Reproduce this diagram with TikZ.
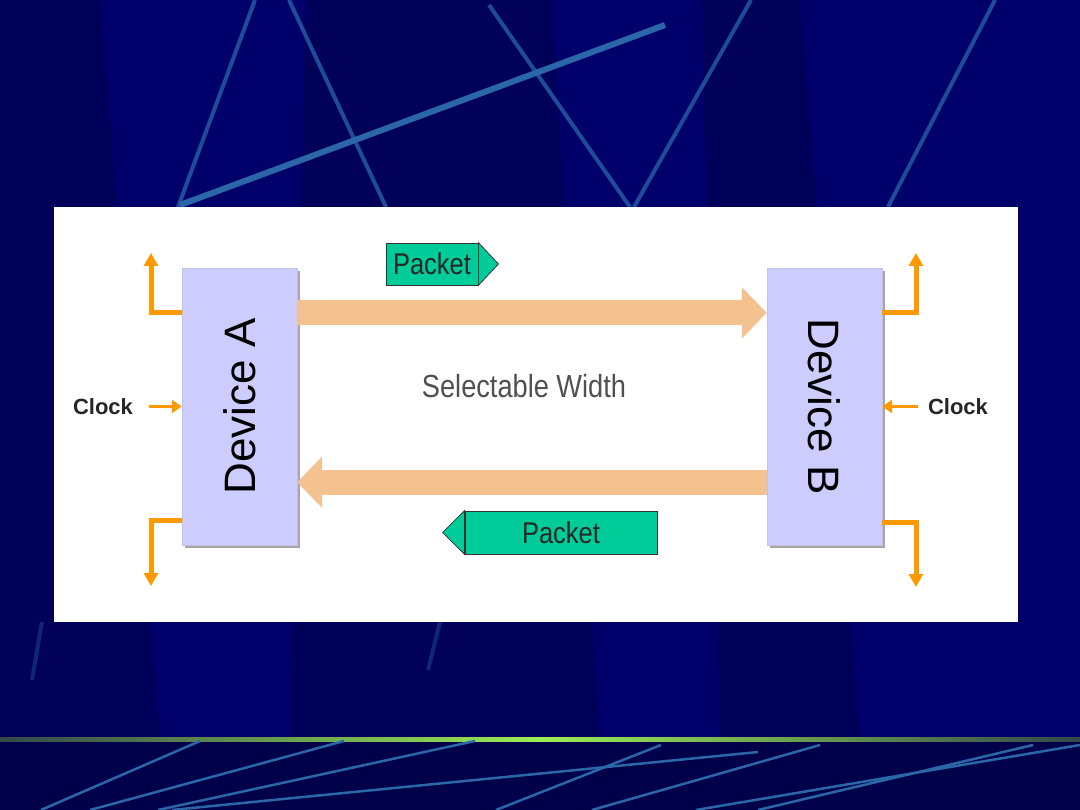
\documentclass[tikz,border=0pt]{standalone}
\usepackage{fontspec}
\setmainfont{Liberation Sans}
\newfontfamily\narrowfont{Liberation Sans}[FakeStretch=0.85]
\usetikzlibrary{arrows.meta,shadows}
\definecolor{navy}{HTML}{00006B}
\definecolor{deepnavy}{HTML}{00004A}
\definecolor{streak}{HTML}{1D4C98}
\definecolor{brightstreak}{HTML}{2A66A8}
\definecolor{lilac}{HTML}{CCCCFF}
\definecolor{peach}{HTML}{F3C28F}
\definecolor{jade}{HTML}{00CC99}
\definecolor{amber}{HTML}{FF9900}
\definecolor{slate}{HTML}{505050}
\definecolor{lime}{HTML}{99EE55}
\definecolor{dimline}{HTML}{34484A}
\tikzset{
  device/.style={rectangle,draw=lilac!85!gray,fill=lilac,minimum width=115pt,minimum height=277pt,inner sep=0pt,font=\fontsize{44}{44}\selectfont,drop shadow={shadow xshift=3pt,shadow yshift=-3pt,fill=gray!70,opacity=1}},
  packet/.style={rectangle,draw=black!80,thick,fill=jade,inner sep=0pt,font=\narrowfont\fontsize{30}{30}\selectfont,text=black!85},
  bus/.style={-{Triangle[length=25pt,width=50pt]},line width=25pt,peach},
  ctl/.style={-{Triangle[length=13pt,width=14pt]},line width=5pt,amber},
  clk/.style={-{Triangle[length=10pt,width=13pt]},line width=2.5pt,amber},
  clocklbl/.style={font=\bfseries\fontsize{22}{22}\selectfont,text=black!85,inner sep=0pt},
  streakline/.style={line width=4pt,streak},
  band/.style={deepnavy,opacity=0.55}
}

\begin{document}
\begin{tikzpicture}[x=1pt,y=-1pt]
        \useasboundingbox (0,0) rectangle (1080,810);
        \fill[navy] (0,0) rectangle (1080,810);
        \fill[band] (0,0) -- (100,0) -- (160,740) -- (0,740) -- cycle;
        \fill[band] (306,0) -- (551,0) -- (600,740) -- (290,740) -- cycle;
        \fill[band] (702,0) -- (800,0) -- (860,740) -- (720,740) -- cycle;
        \draw[streakline] (255,0) -- (178,207);
        \draw[streakline] (289,0) -- (386,207);
        \draw[streakline] (489,5) -- (630,207);
        \draw[streakline] (751,0) -- (634,207);
        \draw[streakline] (995,0) -- (888,207);
        \draw[line width=6pt,brightstreak] (180,205) -- (665,25);
        \draw[streakline,opacity=0.5] (42,622) -- (32,680);
        \draw[streakline,opacity=0.5] (440,622) -- (428,670);
        \fill[deepnavy] (0,741) rectangle (1080,810);
        \shade[left color=dimline,right color=dimline,middle color=lime] (0,737) rectangle (1080,741);
        \draw[brightstreak,line width=2.5pt] (41,810) -- (200,741);
        \draw[brightstreak,line width=2.5pt] (90,810) -- (344,741);
        \draw[brightstreak,line width=2.5pt] (158,810) -- (475,741);
        \draw[brightstreak,line width=2.5pt] (172,810) -- (758,752);
        \draw[brightstreak,line width=2.5pt] (496,810) -- (661,745);
        \draw[brightstreak,line width=2.5pt] (592,810) -- (820,745);
        \draw[brightstreak,line width=2.5pt] (696,810) -- (1080,745);
        \draw[brightstreak,line width=2.5pt] (758,810) -- (1033,745);
        \fill[white] (54,207) rectangle (1018,622);

        \node[device] (devA) at (239.5,406.5) {\rotatebox{90}{Device A}};
        \node[device] (devB) at (824.5,406.5) {\rotatebox{-90}{Device B}};

        \draw[bus] ([yshift=-45pt]devA.north east) -- ([yshift=-45pt]devB.north west);
        \draw[bus] ([yshift=63pt]devB.south west) -- ([yshift=63pt]devA.south east);

        \node[packet,minimum width=92pt,minimum height=42pt] (pk1) at (432,264) {Packet};
        \filldraw[jade,draw=black!80,thick] (pk1.north east) -- ([xshift=20pt]pk1.east) -- (pk1.south east) -- cycle;
        \node[packet,minimum width=192pt,minimum height=43pt] (pk2) at (561,532.5) {Packet};
        \filldraw[jade,draw=black!80,thick] (pk2.north west) -- ([xshift=-22pt]pk2.west) -- (pk2.south west) -- cycle;

        \node[font=\narrowfont\fontsize{32}{32}\selectfont,text=slate] (sel) at (524,386) {Selectable Width};

        \coordinate (upA) at (151,253);
        \coordinate (downA) at (151,586);
        \coordinate (upB) at (916,253);
        \coordinate (downB) at (916,587);
        \draw[ctl] ([yshift=-45pt]devA.north west) -| (upA);
        \draw[ctl] ([yshift=25pt]devA.south west) -| (downA);
        \draw[ctl] ([yshift=-45pt]devB.north east) -| (upB);
        \draw[ctl] ([yshift=23pt]devB.south east) -| (downB);

        \node[clocklbl] (clkA) at (103,406.5) {Clock};
        \node[clocklbl] (clkB) at (958,406.5) {Clock};
        \draw[clk] ([xshift=16pt]clkA.east) -- (devA.west);
        \draw[clk] ([xshift=-10pt]clkB.west) -- (devB.east);
      \end{tikzpicture}
\end{document}
